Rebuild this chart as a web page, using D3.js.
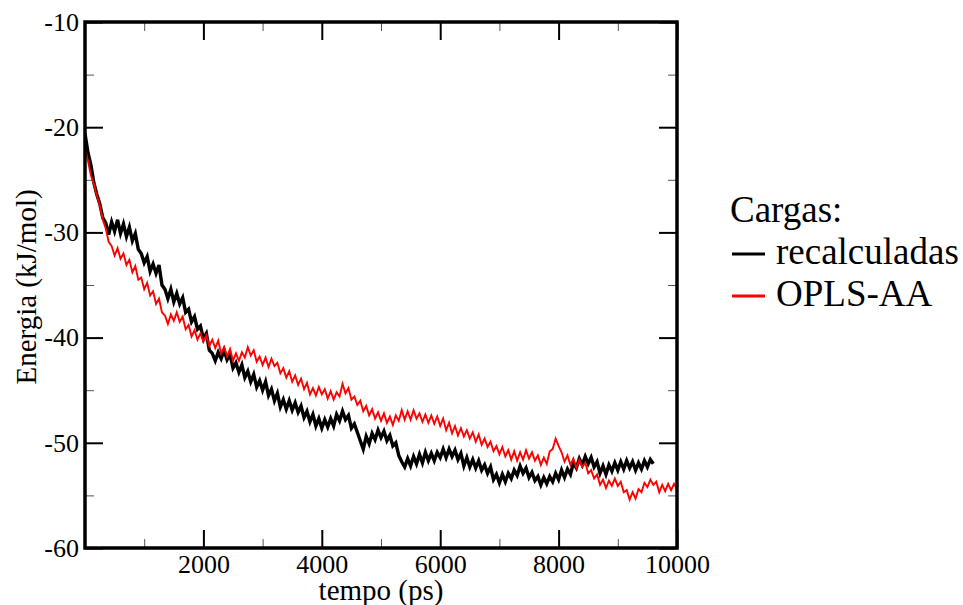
<!DOCTYPE html>
<html>
<head>
<meta charset="utf-8">
<script src="https://cdn.jsdelivr.net/npm/d3@7"></script>
<style>
  body { margin: 0; background: #fff; }
  text { font-family: "Liberation Serif", "DejaVu Serif", serif; }
</style>
</head>
<body>
<svg id="chart" width="963" height="605"></svg>
<script>
// sample spacing of both series (ps)
const step = 50;

// recalculadas (black), 0 .. 9600 ps
const recalculadas = [
  -20.6,-22.4,-23.6,-25.3,-26.4,-27.3,-28.6,-29.1,-30.2,-29.0,-29.9,-28.8,-30.1,-29.2,-30.4,-29.5,-30.8,-30.1,-31.6,-32.0,
  -32.9,-32.3,-33.7,-33.0,-33.9,-33.1,-35.0,-35.4,-36.3,-35.4,-36.6,-35.8,-36.8,-36.2,-37.6,-37.3,-38.5,-38.0,-39.2,-38.9,
  -40.1,-39.6,-41.2,-41.5,-42.2,-41.4,-42.0,-41.2,-42.1,-41.6,-42.9,-42.4,-43.3,-42.6,-43.8,-43.2,-44.2,-43.5,-44.7,-44.1,
  -45.0,-44.2,-45.5,-44.9,-46.0,-45.3,-46.6,-45.9,-46.8,-46.0,-46.9,-46.2,-47.1,-46.5,-47.6,-47.0,-48.0,-47.3,-48.4,-47.7,
  -48.6,-47.8,-48.5,-47.7,-48.4,-47.3,-47.9,-47.0,-47.8,-47.4,-48.6,-48.2,-49.0,-49.8,-50.6,-49.4,-50.1,-49.1,-49.7,-48.8,
  -49.5,-48.9,-49.8,-49.3,-50.3,-50.0,-51.2,-51.8,-52.3,-51.5,-52.2,-51.3,-52.0,-51.1,-51.9,-50.9,-51.7,-51.0,-51.7,-50.9,
  -51.4,-50.6,-51.4,-50.6,-51.3,-50.7,-51.6,-51.0,-52.2,-51.4,-52.3,-51.6,-52.4,-51.7,-52.6,-52.1,-52.9,-52.3,-53.5,-53.0,
  -53.8,-53.0,-53.7,-52.9,-53.4,-52.6,-53.1,-52.2,-52.9,-52.4,-53.3,-52.8,-53.6,-53.2,-54.0,-53.3,-53.9,-53.2,-53.7,-52.9,
  -53.5,-52.6,-53.3,-52.5,-53.0,-51.9,-52.4,-51.5,-52.1,-51.3,-52.0,-51.4,-52.3,-51.8,-52.9,-52.2,-53.0,-52.1,-52.7,-51.9,
  -52.6,-51.8,-52.5,-51.7,-52.4,-51.8,-52.6,-51.9,-52.5,-51.7,-52.3,-51.6,-52.0
];

// OPLS-AA (red), 0 .. 10000 ps
const oplsAA = [
  -22.0,-23.2,-24.6,-25.4,-26.5,-27.4,-28.8,-29.6,-30.9,-31.3,-32.2,-31.5,-32.5,-32.0,-33.1,-32.6,-33.8,-33.2,-34.5,-34.3,
  -35.4,-34.8,-36.0,-35.6,-36.8,-36.3,-37.6,-37.9,-38.7,-37.8,-38.4,-37.6,-38.5,-38.0,-39.2,-38.8,-39.9,-39.3,-40.2,-39.6,
  -40.4,-39.8,-40.8,-40.2,-41.0,-40.3,-41.5,-40.9,-41.8,-41.1,-42.2,-41.5,-42.2,-41.4,-41.9,-40.9,-41.7,-41.2,-42.3,-41.8,
  -42.6,-41.9,-42.8,-42.0,-42.7,-42.4,-43.4,-42.9,-43.8,-43.2,-44.2,-43.6,-44.5,-43.9,-44.9,-44.3,-45.4,-44.8,-45.5,-44.7,
  -45.4,-44.9,-45.8,-45.1,-45.9,-45.2,-45.6,-44.4,-45.3,-44.8,-45.9,-45.6,-46.4,-46.0,-47.0,-46.5,-47.4,-46.8,-47.7,-47.1,
  -47.9,-47.2,-48.1,-47.5,-48.3,-47.4,-47.9,-46.9,-47.8,-47.0,-47.8,-46.9,-47.7,-47.2,-48.0,-47.3,-48.1,-47.4,-48.2,-47.5,
  -48.4,-47.7,-48.8,-48.1,-49.1,-48.4,-49.3,-48.6,-49.4,-48.8,-49.6,-49.0,-49.9,-49.2,-50.2,-49.6,-50.4,-49.9,-50.8,-50.3,
  -51.1,-50.4,-51.3,-50.7,-51.6,-50.8,-51.7,-50.9,-51.6,-50.7,-51.5,-50.9,-51.7,-51.2,-52.1,-51.4,-52.0,-50.8,-50.6,-49.6,
  -50.3,-50.9,-51.8,-51.2,-52.1,-51.5,-52.4,-51.6,-52.3,-51.9,-52.9,-52.6,-53.4,-53.0,-54.0,-53.5,-54.3,-53.6,-54.1,-53.4,
  -54.1,-53.7,-54.7,-54.5,-55.4,-54.7,-55.3,-54.4,-54.7,-53.8,-54.2,-53.5,-54.0,-53.7,-54.7,-54.0,-54.6,-53.9,-54.5,-53.9,
  -54.4
];

const xMajor = [2000, 4000, 6000, 8000, 10000];
const xMinor = [1000, 3000, 5000, 7000, 9000];
const yMajor = [-60, -50, -40, -30, -20, -10];
const yMinor = [-55, -45, -35, -25, -15];

const legendTitle = "Cargas:";
const seriesNames = ["recalculadas", "OPLS-AA"];
const seriesColors = ["#000000", "#ff0000"];

const svg = d3.select("#chart");
const plotLeft = 85, plotRight = 677, plotTop = 22, plotBottom = 548;

const x = d3.scaleLinear().domain([0, 10000]).range([plotLeft, plotRight]);
const y = d3.scaleLinear().domain([-60, -10]).range([plotBottom, plotTop]);

const serif = "'Liberation Serif', 'Times New Roman', serif";

function styleAxis(g){
    g.attr("font-family", serif).attr("font-size", 26);
    g.select(".domain").remove();
    g.selectAll(".tick line").attr("stroke", "#000").attr("stroke-width", 2);
    g.selectAll(".tick text")
        .attr("fill", "#000")
        .style("font-family", serif)
        .style("font-size", "26px");
}

// minor ticks (all four sides)
const minorG = svg.append("g");
minorG.append("g").attr("transform", `translate(0,${plotBottom})`)
    .call(d3.axisBottom(x).tickValues(xMinor).tickSize(-9).tickFormat(""))
    .call(styleAxis);
minorG.append("g").attr("transform", `translate(0,${plotTop})`)
    .call(d3.axisTop(x).tickValues(xMinor).tickSize(-9).tickFormat(""))
    .call(styleAxis);
minorG.append("g").attr("transform", `translate(${plotLeft},0)`)
    .call(d3.axisLeft(y).tickValues(yMinor).tickSize(-9).tickFormat(""))
    .call(styleAxis);
minorG.append("g").attr("transform", `translate(${plotRight},0)`)
    .call(d3.axisRight(y).tickValues(yMinor).tickSize(-9).tickFormat(""))
    .call(styleAxis);
minorG.selectAll(".tick line").attr("stroke-width", 1).attr("stroke", "#555");

// major ticks
svg.append("g").attr("transform", `translate(0,${plotBottom})`)
    .call(d3.axisBottom(x).tickValues(xMajor).tickSize(-18).tickPadding(7).tickFormat(d => String(d)))
    .call(styleAxis);
svg.append("g").attr("transform", `translate(0,${plotTop})`)
    .call(d3.axisTop(x).tickValues(xMajor).tickSize(-18).tickFormat(""))
    .call(styleAxis);
svg.append("g").attr("transform", `translate(${plotLeft},0)`)
    .call(d3.axisLeft(y).tickValues(yMajor).tickSize(-18).tickPadding(6).tickFormat(d => String(d)))
    .call(styleAxis);
svg.append("g").attr("transform", `translate(${plotRight},0)`)
    .call(d3.axisRight(y).tickValues(yMajor).tickSize(-18).tickFormat(""))
    .call(styleAxis);

// series
const line = d3.line()
    .x((d, i) => x(i * step))
    .y(d => y(d));

svg.append("clipPath").attr("id", "plotclip")
    .append("rect").attr("x", plotLeft).attr("y", plotTop)
    .attr("width", plotRight - plotLeft).attr("height", plotBottom - plotTop);

svg.append("path").datum(recalculadas)
    .attr("d", line)
    .attr("fill", "none")
    .attr("stroke", seriesColors[0])
    .attr("stroke-width", 3.4)
    .attr("clip-path", "url(#plotclip)");

svg.append("path").datum(oplsAA)
    .attr("d", line)
    .attr("fill", "none")
    .attr("stroke", seriesColors[1])
    .attr("stroke-width", 1.9)
    .attr("clip-path", "url(#plotclip)");

// frame
svg.append("rect")
    .attr("x", plotLeft).attr("y", plotTop)
    .attr("width", plotRight - plotLeft).attr("height", plotBottom - plotTop)
    .attr("fill", "none")
    .attr("stroke", "#000")
    .attr("stroke-width", 3.5);

// axis titles
svg.append("text")
    .attr("x", (plotLeft + plotRight) / 2).attr("y", 600)
    .attr("text-anchor", "middle")
    .style("font-family", serif)
    .style("font-size", "29px")
    .text("tempo (ps)");

svg.append("text")
    .attr("transform", `translate(36,${(plotTop + plotBottom) / 2 + 2}) rotate(-90)`)
    .attr("text-anchor", "middle")
    .style("font-family", serif)
    .style("font-size", "29px")
    .text("Energia (kJ/mol)");

// legend
const legend = svg.append("g").attr("transform", "translate(730,0)");
legend.append("text")
    .attr("x", 0).attr("y", 222)
    .style("font-family", serif)
    .style("font-size", "37px")
    .text(legendTitle);

seriesNames.forEach((name, i) => {
    const yy = 254 + i * 42;
    legend.append("line")
        .attr("x1", 2).attr("x2", 35)
        .attr("y1", yy).attr("y2", yy)
        .attr("stroke", seriesColors[i])
        .attr("stroke-width", 3);
    legend.append("text")
        .attr("x", 46).attr("y", yy + 10)
        .style("font-family", serif)
        .style("font-size", "37px")
        .text(name);
});
</script>
</body>
</html>
